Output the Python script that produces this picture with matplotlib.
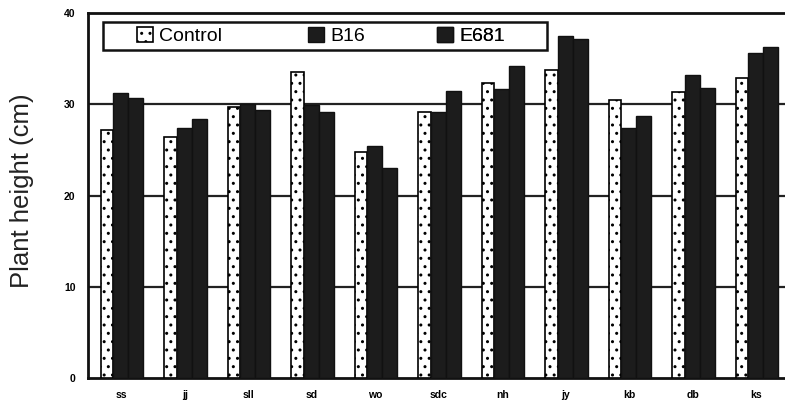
import numpy as np
import matplotlib
matplotlib.use("Agg")
import matplotlib.pyplot as plt
from matplotlib.patches import Rectangle

categories = ["ss", "jj", "sll", "sd", "wo", "sdc", "nh", "jy", "kb", "db", "ks"]
control = [27.2, 26.4, 29.7, 33.5, 24.8, 29.2, 32.3, 33.8, 30.5, 31.3, 32.9]
b16 = [31.2, 27.4, 30.0, 29.9, 25.4, 29.2, 31.7, 37.5, 27.4, 33.2, 35.6]
e681 = [30.7, 28.4, 29.4, 29.1, 23.0, 31.4, 34.2, 37.1, 28.7, 31.8, 36.3]
series_names = ["Control", "B16", "E681"]
yticks = [0, 10, 20, 30, 40]

plt.rcParams['font.family'] = ['Liberation Sans', 'DejaVu Sans']
plt.rcParams['hatch.linewidth'] = 1.0

fig = plt.figure(figsize=(7.85, 4.05), dpi=100)
ax = fig.add_axes([88/785, 27/405, 697/785, 365/405])

x = np.arange(len(categories))
bc = ax.bar(x - 0.225, control, width=0.20, facecolor="white", edgecolor="black",
            hatch="..", linewidth=1.2, label=series_names[0], zorder=3)
bb = ax.bar(x - 0.0075, b16, width=0.235, facecolor="#1c1c1c", edgecolor="#111111",
            linewidth=1.0, label=series_names[1], zorder=3)
be = ax.bar(x + 0.2275, e681, width=0.235, facecolor="#1c1c1c", edgecolor="#111111",
            linewidth=1.0, label=series_names[2], zorder=3)

for yv in yticks[1:-1]:
    ax.axhline(yv, color="#222222", linewidth=1.6, zorder=1)

ax.set_ylim(0, 40)
ax.set_xlim(-0.525, 10.45)
ax.set_yticks(yticks)
ax.set_yticklabels([str(v) for v in yticks], fontsize=7.5, fontweight="bold")
ax.set_xticks(x)
ax.set_xticklabels(categories, fontsize=7.5, fontweight="bold")
ax.tick_params(axis="both", length=0)
ax.tick_params(axis="y", pad=9)
ax.tick_params(axis="x", pad=9)

for side in ["left", "top", "bottom"]:
    ax.spines[side].set_linewidth(2.0)
    ax.spines[side].set_color("#111111")
ax.spines["right"].set_visible(False)

ax.set_ylabel("Plant height (cm)", fontsize=18.5, color="#222222")
ax.yaxis.set_label_coords(-0.078, 0.512)

# legend frame
ax.add_patch(Rectangle((0.0215, 0.8986), 0.637, 0.0767, transform=ax.transAxes,
                       facecolor="white", edgecolor="#111111", linewidth=1.8,
                       zorder=5, clip_on=False))
handle_x = [0.0703, 0.3156, 0.5007]
for h, name, hx in zip([bc, bb, be], series_names, handle_x):
    lg = ax.legend([h], [name], loc="center left", bbox_to_anchor=(hx, 0.937),
                   frameon=False, fontsize=14, borderpad=0, borderaxespad=0,
                   handlelength=0.8, handleheight=0.8, handletextpad=0.35)
    lg.set_zorder(6)
    ax.add_artist(lg)

fig.savefig("out.png", dpi=100)
